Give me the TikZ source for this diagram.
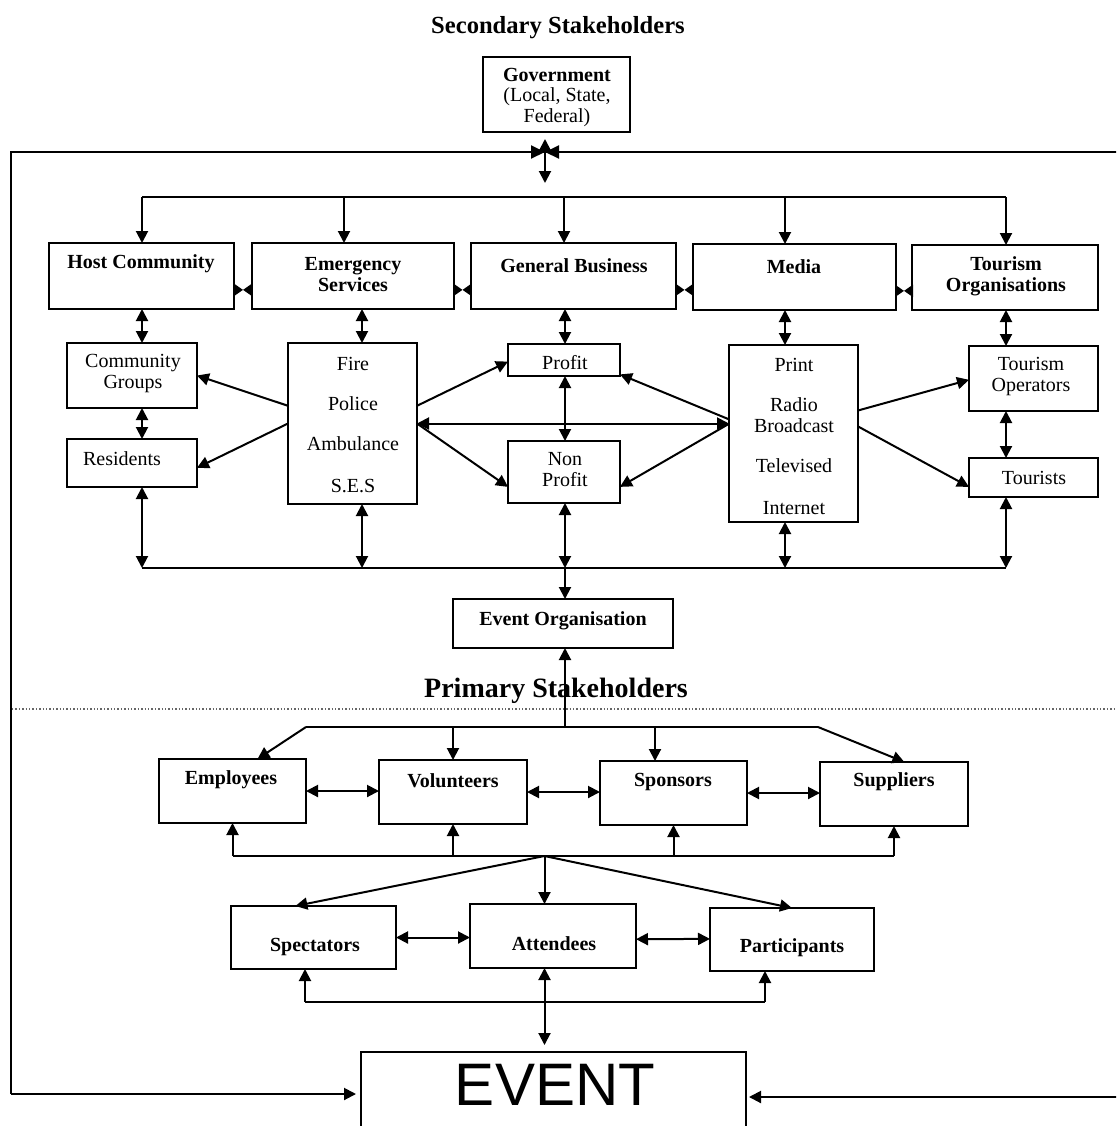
\documentclass[tikz,border=0pt]{standalone}
\usepackage{fontspec}
\setmainfont{Liberation Serif}
\newfontfamily\eventfont{Liberation Sans}
\usetikzlibrary{arrows.meta,fit,calc}
\newcommand\mkbox[5]{\node[box, fit={(#2,#3) (#4,#5)}] (#1) {};}
\begin{document}
\begin{tikzpicture}[x=0.5pt,y=-0.5pt,
  box/.style={draw, line width=1pt, inner sep=0pt, outer sep=0pt},
  lb/.style={inner sep=0pt, align=center, font=\fontsize{10}{10.5}\selectfont\bfseries},
  lr/.style={inner sep=0pt, align=center, font=\fontsize{10}{10.5}\selectfont},
  ln/.style={line width=1pt},
  arr/.style={ln, -{Triangle[length=6pt,width=6pt]}},
  darr/.style={ln, {Triangle[length=6pt,width=6pt]}-{Triangle[length=6pt,width=6pt]}},
  bowhalf/.style={ln, -{Triangle[length=4.5pt,width=6pt]}},
  sidehead/.style={ln, -{Triangle[length=7pt,width=6.5pt]}},
]
\useasboundingbox (0,0) rectangle (1116,1126);
\fill[white] (0,0) rectangle (1116,1126);
\clip (0,0) rectangle (1116,1126);

% ---------- titles ----------
\node[inner sep=0pt, font=\fontsize{12.3}{14}\selectfont\bfseries] (sectitle) at (558,28) {Secondary Stakeholders};
\node[inner sep=0pt, font=\fontsize{14}{16}\selectfont\bfseries] (primtitle) at (556,691) {Primary Stakeholders};

% ---------- boxes ----------
\mkbox{gov}{483}{57}{630}{132}
\mkbox{host}{49}{243}{234}{309}
\mkbox{emerg}{252}{243}{454}{309}
\mkbox{genbus}{471}{243}{676}{309}
\mkbox{media}{693}{244}{896}{310}
\mkbox{tourorg}{912}{245}{1098}{310}
\mkbox{cg}{67}{343}{197}{408}
\mkbox{res}{67}{439}{197}{487}
\mkbox{fire}{288}{343}{417}{504}
\mkbox{profit}{508}{344}{620}{376}
\mkbox{nonprofit}{508}{441}{620}{503}
\mkbox{mlist}{729}{345}{858}{522}
\mkbox{tops}{969}{346}{1098}{411}
\mkbox{tourists}{969}{458}{1098}{497}
\mkbox{eo}{453}{599}{673}{648}
\mkbox{emp}{159}{759}{306}{823}
\mkbox{vol}{379}{760}{527}{824}
\mkbox{spons}{600}{761}{747}{825}
\mkbox{sup}{820}{762}{968}{826}
\mkbox{spec}{231}{906}{396}{969}
\mkbox{att}{470}{904}{636}{968}
\mkbox{part}{710}{908}{874}{971}
\mkbox{event}{361}{1052}{746}{1160}

% ---------- texts ----------
\node[lb] (tgov1) at (557,75) {Government};
\node[lr] (tgov2) at (557,107.5) {(Local, State,\\Federal)};
\node[lb] (thost) at (141,264) {Host Community};
\node[lb] (temerg) at (353,274.5) {Emergency\\Services};
\node[lb] (tgen) at (574,266) {General Business};
\node[lb] (tmedia) at (794,267) {Media};
\node[lb] (ttour) at (1006,276.5) {Tourism\\Organisations};
\node[lr] (tcg) at (133,373) {Community\\Groups};
\node[lr] (tres) at (122,459) {Residents};
\node[lr] (tfire) at (353,364) {Fire};
\node[lr] (tpol) at (353,404) {Police};
\node[lr] (tamb) at (353,444) {Ambulance};
\node[lr] (tses) at (353,486) {S.E.S};
\node[lr] (tprofit) at (565,363) {Profit};
\node[lr] (tnon) at (565,469.5) {Non\\Profit};
\node[lr] (tprint) at (794,365) {Print};
\node[lr] (tradio) at (794,415) {Radio\\Broadcast};
\node[lr] (ttv) at (794,466) {Televised};
\node[lr] (tnet) at (794,508) {Internet};
\node[lr] (ttops) at (1031,376.5) {Tourism\\Operators};
\node[lr] (ttourists) at (1034,478) {Tourists};
\node[lb] (teo) at (563,621) {Event Organisation};
\node[lb] (temp) at (231,780) {Employees};
\node[lb] (tvol) at (453,781) {Volunteers};
\node[lb] (tspons) at (673,782) {Sponsors};
\node[lb] (tsup) at (894,782) {Suppliers};
\node[lb] (tspec) at (315,947) {Spectators};
\node[lb] (tatt) at (554,944) {Attendees};
\node[lb] (tpart) at (792,948) {Participants};
\node[inner sep=0pt, font=\eventfont\fontsize{30}{30}\selectfont] (tevent) at (555,1085) {EVENT};

% ---------- frame ----------
\coordinate (F1) at (11,152);
\coordinate (F2) at (1120,152);
\coordinate (F3) at (11,1094);
\coordinate (F4) at (1120,1097);
\draw[ln] (F2) -- (F1) -- (F3);
\draw[arr, shorten >=2.5pt] (F3) -- (F3 -| event.west);
\draw[arr, shorten >=1.5pt] (F4) -- (F4 -| event.east);

% ---------- government junction ----------
\coordinate (J) at (545,152);
\coordinate (Jd) at (545,183);
\draw[arr, shorten >=3.5pt] (J) -- (J |- gov.south);
\draw[sidehead] ($(J)+(-15,0)$) -- (J);
\draw[sidehead] ($(J)+(16,0)$) -- (J);
\draw[arr] (J) -- (Jd);

% ---------- top distribution ----------
\coordinate (d1) at (142,197);
\coordinate (d2) at (344,197);
\coordinate (d3) at (564,197);
\coordinate (d4) at (785,197);
\coordinate (d5) at (1006,197);
\draw[ln] (d1) -- (d5);
\draw[arr] (d1) -- (d1 |- host.north);
\draw[arr] (d2) -- (d2 |- emerg.north);
\draw[arr] (d3) -- (d3 |- genbus.north);
\draw[arr] (d4) -- (d4 |- media.north);
\draw[arr] (d5) -- (d5 |- tourorg.north);

% ---------- bow ties between top boxes ----------
\foreach \a/\b in {host/emerg, emerg/genbus, genbus/media, media/tourorg}{
  \coordinate (bl) at ($(\a.north east)!.71!(\a.south east)$);
  \coordinate (br) at (bl -| \b.west);
  \coordinate (bm) at ($(bl)!.5!(br)$);
  \draw[bowhalf] (bl) -- (bm);
  \draw[bowhalf] (br) -- (bm);
}

% ---------- columns ----------
\coordinate (cA) at (142,568);
\coordinate (cB) at (362,568);
\coordinate (cC) at (565,568);
\coordinate (cD) at (785,568);
\coordinate (cE) at (1006,568);

\draw[darr] (cA |- host.south) -- (cA |- cg.north);
\draw[darr] (cA |- cg.south) -- (cA |- res.north);
\draw[darr] (cB |- emerg.south) -- (cB |- fire.north);
\draw[darr] (cC |- genbus.south) -- (cC |- profit.north);
\draw[darr] (cC |- profit.south) -- (cC |- nonprofit.north);
\draw[darr] (cD |- media.south) -- (cD |- mlist.north);
\draw[darr] (cE |- tourorg.south) -- (cE |- tops.north);
\draw[darr] (cE |- tops.south) -- (cE |- tourists.north);

% ---------- diagonals ----------
\draw[arr] ($(fire.north west)!.39!(fire.south west)$) -- (cg.east);
\draw[arr] (fire.west) -- ($(res.north east)!.6!(res.south east)$);
\draw[arr] ($(fire.north east)!.39!(fire.south east)$) -- ($(profit.north west)!.55!(profit.south west)$);
\draw[arr] (fire.east) -- ($(nonprofit.north west)!.74!(nonprofit.south west)$);
\draw[darr] (fire.east) -- (fire.east -| mlist.west);
\draw[arr] ($(mlist.north west)!.42!(mlist.south west)$) -- ($(profit.north east)!.95!(profit.south east)$);
\draw[arr] ($(mlist.north west)!.445!(mlist.south west)$) -- ($(nonprofit.north east)!.74!(nonprofit.south east)$);
\draw[arr] ($(mlist.north east)!.37!(mlist.south east)$) -- ($(tops.north west)!.52!(tops.south west)$);
\draw[arr] ($(mlist.north east)!.46!(mlist.south east)$) -- ($(tourists.north west)!.74!(tourists.south west)$);

% ---------- bottom collection ----------
\draw[ln] (cA) -- (cE);
\draw[darr] (cA |- res.south) -- (cA);
\draw[darr] (cB |- fire.south) -- (cB);
\draw[darr] (cC |- nonprofit.south) -- (cC);
\draw[darr] (cD |- mlist.south) -- (cD);
\draw[darr] (cE |- tourists.south) -- (cE);
\draw[arr] (cC) -- (cC |- eo.north);

% ---------- separator ----------
\draw[densely dotted, line width=0.7pt, black!60] (12,709) -- (1120,709);

% ---------- primary distribution ----------
\coordinate (p0) at (565,727);
\coordinate (pL) at (306,727);
\coordinate (pR) at (818,727);
\coordinate (pV) at (453,727);
\coordinate (pS) at (655,727);
\draw[arr] (p0) -- (p0 |- eo.south);
\draw[ln] (pL) -- (pR);
\draw[arr] (pL) -- ($(emp.north west)!.67!(emp.north east)$);
\draw[arr] (pR) -- ($(sup.north west)!.57!(sup.north east)$);
\draw[arr] (pV) -- (pV |- vol.north);
\draw[arr] (pS) -- (pS |- spons.north);

\draw[darr] (emp.east) -- (emp.east -| vol.west);
\draw[darr] (vol.east) -- (vol.east -| spons.west);
\draw[darr] (spons.east) -- (spons.east -| sup.west);

% ---------- lower collection ----------
\coordinate (q0) at (544.5,856);
\draw[ln] (emp.south |- q0) -- (sup.south |- q0);
\draw[arr] (emp.south |- q0) -- (emp.south);
\draw[arr] (vol.south |- q0) -- (vol.south);
\draw[arr] (spons.south |- q0) -- (spons.south);
\draw[arr] (sup.south |- q0) -- (sup.south);
\draw[arr] (q0) -- ($(spec.north west)!.39!(spec.north east)$);
\draw[arr] (q0) -- (q0 |- att.north);
\draw[arr] (q0) -- (part.north);

\draw[darr] (spec.east) -- (spec.east -| att.west);
\draw[darr] ($(att.north east)!.55!(att.south east)$) -- ($(part.north west)!.49!(part.south west)$);

\coordinate (rL) at (305,1002);
\coordinate (rR) at (765,1002);
\draw[ln] (rL) -- (rR);
\draw[arr] (rL) -- (rL |- spec.south);
\draw[arr] (rR) -- (rR |- part.south);
\draw[darr, shorten >=3.5pt] (q0 |- att.south) -- (q0 |- event.north);
\end{tikzpicture}
\end{document}
